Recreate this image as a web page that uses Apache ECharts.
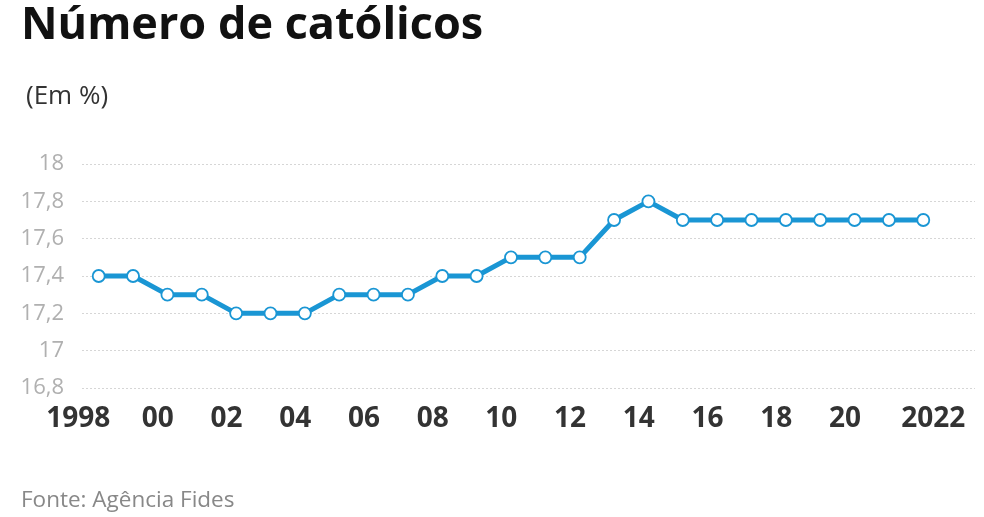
<!DOCTYPE html>
<html>
<head>
<meta charset="utf-8">
<script src="https://cdn.jsdelivr.net/npm/echarts@6/dist/echarts.min.js"></script>
<style>
html,body{margin:0;padding:0;background:#fff;}
#chart{width:984px;height:517px;}
</style>
</head>
<body>
<div id="chart"></div>
<script>
const years = [1998,1999,2000,2001,2002,2003,2004,2005,2006,2007,2008,2009,2010,2011,2012,2013,2014,2015,2016,2017,2018,2019,2020,2021,2022];
const values = [17.4,17.4,17.3,17.3,17.2,17.2,17.2,17.3,17.3,17.3,17.4,17.4,17.5,17.5,17.5,17.7,17.8,17.7,17.7,17.7,17.7,17.7,17.7,17.7,17.7];
const xTickLabels = ['1998','00','02','04','06','08','10','12','14','16','18','20','2022'];
const xTickPositions = [1997.52,1999.72,2001.72,2003.72,2005.72,2007.72,2009.72,2011.72,2013.72,2015.72,2017.72,2019.72,2022.29];

const X_MIN = 1997.514, X_MAX = 2023.505;
const font = '"Open Sans", "Noto Sans", sans-serif';

const chart = echarts.init(document.getElementById('chart'), null, {renderer:'canvas'});
chart.setOption({
  animation:false,
  backgroundColor:'#fff',
  title:[
    {text:'Número de católicos', left:16, top:-1,
     textStyle:{fontFamily:font, fontWeight:'bold', fontSize:45, color:'#111'}},
    {text:'(Em %)', left:21, top:79,
     textStyle:{fontFamily:font, fontWeight:'normal', fontSize:26, color:'#333'}},
    {text:'Fonte: Agência Fides', left:16, top:484,
     textStyle:{fontFamily:font, fontWeight:'normal', fontSize:22.5, color:'#888'}}
  ],
  grid:{left:82, right:9, top:164, bottom:129, containLabel:false},
  xAxis:[
    {type:'value', min:X_MIN, max:X_MAX,
     axisLine:{show:false}, axisTick:{show:false}, splitLine:{show:false},
     axisLabel:{show:false}},
    {type:'value', min:X_MIN, max:X_MAX, position:'bottom',
     axisLine:{show:false}, axisTick:{show:false}, splitLine:{show:false},
     axisLabel:{show:true, customValues:xTickPositions, margin:17, showMinLabel:true, showMaxLabel:true,
       fontFamily:font, fontWeight:'bold', fontSize:28, color:'#333',
       formatter:function(v){
         let best=0, d=1e9;
         xTickPositions.forEach((p,i)=>{ if(Math.abs(p-v)<d){d=Math.abs(p-v);best=i;} });
         return best===0 ? '{s|'+xTickLabels[best]+'}' : xTickLabels[best];
       },
       rich:{s:{fontFamily:font, fontWeight:'bold', fontSize:28, color:'#333', padding:[0,8,0,0]}}
     }}
  ],
  yAxis:{type:'value', min:16.8, max:18, interval:0.2,
    axisLine:{show:false}, axisTick:{show:false},
    splitLine:{show:true, lineStyle:{color:'#d6d6d6', type:[2,2], width:1}},
    axisLabel:{margin:18, fontFamily:font, fontSize:22, color:'#b0b0b0',
      formatter:function(v){ return (Math.round(v*10)/10).toString().replace('.',','); }}
  },
  series:[{
    type:'line', xAxisIndex:0,
    data:years.map((y,i)=>[y,values[i]]),
    lineStyle:{color:'#1a96d4', width:5},
    itemStyle:{color:'#fff', borderColor:'#1a96d4', borderWidth:1.8},
    symbol:'circle', symbolSize:12, showSymbol:true,
    z:3
  }]
});
</script>
</body>
</html>
